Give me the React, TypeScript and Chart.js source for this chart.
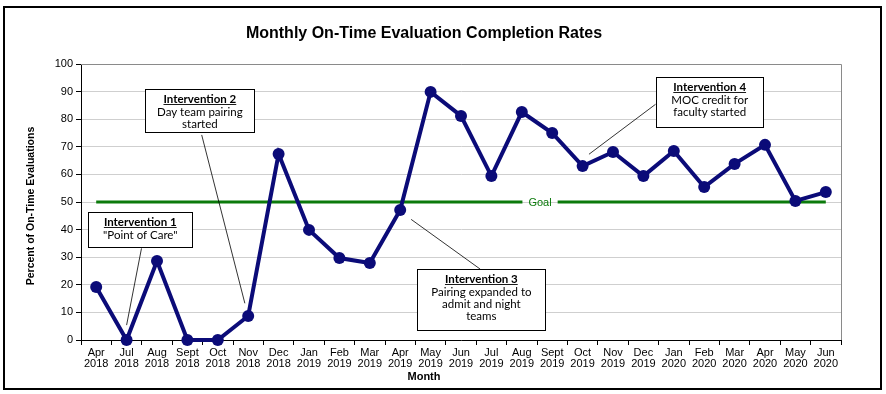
import React, { useEffect, useRef } from "react";
import { Chart, registerables } from "chart.js";

Chart.register(...registerables);

const months = ["Apr", "Jul", "Aug", "Sept", "Oct", "Nov", "Dec", "Jan", "Feb", "Mar", "Apr", "May", "Jun", "Jul", "Aug", "Sept", "Oct", "Nov", "Dec", "Jan", "Feb", "Mar", "Apr", "May", "Jun"];
const years = ["2018", "2018", "2018", "2018", "2018", "2018", "2018", "2019", "2019", "2019", "2019", "2019", "2019", "2019", "2019", "2019", "2019", "2019", "2019", "2020", "2020", "2020", "2020", "2020", "2020"];
const rates = [19.2, 0, 28.6, 0, 0, 8.7, 67.4, 39.9, 29.7, 27.9, 47.1, 89.9, 81.2, 59.4, 82.6, 75, 63, 68.1, 59.4, 68.5, 55.4, 63.8, 70.7, 50.4, 53.6];
const goalValue = 50;
const goalLabelIndex = 14.6;
const yTicks = { min: 0, max: 100, step: 10 };

type Note = {
  title: string;
  lines: string[];
  cx: number; // category index of box center
  top: number; // value at box top
  w: number;
  h: number;
  from: [number, number];
  to: [number, number];
};

const notes: Note[] = [
  { title: "Intervention 1", lines: ['"Point of Care"'], cx: 1.45, top: 46.4, w: 104, h: 35, from: [1.49, 33.2], to: [1.0, 5.4] },
  { title: "Intervention 2", lines: ["Day team pairing", "started"], cx: 3.41, top: 90.8, w: 109, h: 43, from: [3.47, 74.3], to: [4.89, 13.3] },
  { title: "Intervention 3", lines: ["Pairing expanded to", "admit and night", "teams"], cx: 12.67, top: 25.6, w: 128, h: 61, from: [10.36, 43.7], to: [12.63, 25.7] },
  { title: "Intervention 4", lines: ["MOC credit for", "faculty started"], cx: 20.18, top: 95.2, w: 107, h: 50, from: [18.4, 85.4], to: [16.21, 67.3] },
];

const NAVY = "#0b0b78";
const GREEN = "#0b7a0b";
const SANS = "'Liberation Sans', Arial, sans-serif";
const NOTE_FONT = "Lato, 'Open Sans', sans-serif";

const goalPlugin = {
  id: "goalLine",
  beforeDatasetsDraw(chart: any) {
    const { ctx } = chart;
    const x = chart.scales.x;
    const y = chart.scales.y;
    const py = y.getPixelForValue(goalValue);
    const x0 = x.getPixelForValue(0);
    const x1 = x.getPixelForValue(rates.length - 1);
    const lx = x.getPixelForValue(goalLabelIndex);
    ctx.save();
    ctx.font = `11px ${SANS}`;
    const tw = ctx.measureText("Goal").width;
    const gap = tw / 2 + 6;
    ctx.strokeStyle = GREEN;
    ctx.lineWidth = 3;
    ctx.beginPath();
    ctx.moveTo(x0, py);
    ctx.lineTo(lx - gap, py);
    ctx.moveTo(lx + gap, py);
    ctx.lineTo(x1, py);
    ctx.stroke();
    ctx.fillStyle = GREEN;
    ctx.textAlign = "center";
    ctx.textBaseline = "middle";
    ctx.fillText("Goal", lx, py + 1);
    ctx.restore();
  },
};

const decorPlugin = {
  id: "decor",
  beforeDraw(chart: any) {
    const { ctx, width, height } = chart;
    ctx.save();
    ctx.fillStyle = "#ffffff";
    ctx.fillRect(0, 0, width, height);
    ctx.restore();
  },
  afterDraw(chart: any) {
    const { ctx, chartArea } = chart;
    const x = chart.scales.x;
    const y = chart.scales.y;
    ctx.save();
    // plot border top/right
    ctx.strokeStyle = "#8a8a8a";
    ctx.lineWidth = 1;
    ctx.beginPath();
    ctx.moveTo(chartArea.left, chartArea.top + 0.5);
    ctx.lineTo(chartArea.right + 0.5, chartArea.top + 0.5);
    ctx.lineTo(chartArea.right + 0.5, chartArea.bottom);
    ctx.stroke();

    // outer border
    ctx.strokeStyle = "#000000";
    ctx.lineWidth = 2;
    ctx.strokeRect(4, 7, 877, 382);

    // title
    ctx.fillStyle = "#000";
    ctx.font = `bold 16px ${SANS}`;
    ctx.textAlign = "center";
    ctx.textBaseline = "middle";
    ctx.fillText("Monthly On-Time Evaluation Completion Rates", 424, 34);

    // axis titles
    ctx.font = `bold 11px ${SANS}`;
    ctx.fillText("Month", 424, 377);
    ctx.save();
    ctx.translate(31, 206);
    ctx.rotate(-Math.PI / 2);
    ctx.font = `bold 10.5px ${SANS}`;
    ctx.fillText("Percent of On-Time Evaluations", 0, 0);
    ctx.restore();

    // annotations
    for (const n of notes) {
      const cx = x.getPixelForValue(n.cx);
      const top = y.getPixelForValue(n.top);
      const fx = x.getPixelForValue(n.from[0]);
      const fy = y.getPixelForValue(n.from[1]);
      const tx = x.getPixelForValue(n.to[0]);
      const ty = y.getPixelForValue(n.to[1]);
      ctx.strokeStyle = "#000";
      ctx.lineWidth = 0.8;
      ctx.beginPath();
      ctx.moveTo(fx, fy);
      ctx.lineTo(tx, ty);
      ctx.stroke();
      const left = Math.round(cx - n.w / 2) + 0.5;
      const tp = Math.round(top) + 0.5;
      ctx.fillStyle = "#fff";
      ctx.fillRect(left, tp, n.w, n.h);
      ctx.lineWidth = 1;
      ctx.strokeRect(left, tp, n.w, n.h);
      ctx.fillStyle = "#000";
      ctx.textAlign = "center";
      ctx.textBaseline = "middle";
      ctx.font = `bold 11.5px ${NOTE_FONT}`;
      const ty0 = tp + 9.5;
      ctx.fillText(n.title, cx, ty0);
      const tw = ctx.measureText(n.title).width;
      ctx.beginPath();
      ctx.lineWidth = 0.9;
      ctx.moveTo(cx - tw / 2, Math.round(ty0 + 5) + 0.5);
      ctx.lineTo(cx + tw / 2, Math.round(ty0 + 5) + 0.5);
      ctx.stroke();
      ctx.font = `11.5px ${NOTE_FONT}`;
      n.lines.forEach((l, i) => ctx.fillText(l, cx, ty0 + 1.5 + 12 * (i + 1)));
    }
    ctx.restore();
  },
};

export default function App() {
  const ref = useRef<HTMLCanvasElement | null>(null);
  useEffect(() => {
    if (!ref.current) return;
    const labels = months.map((m, i) => [m, years[i]]);
    const chart = new Chart(ref.current, {
      type: "line",
      data: {
        labels,
        datasets: [
          {
            data: rates,
            borderColor: NAVY,
            backgroundColor: NAVY,
            borderWidth: 4,
            pointRadius: 6,
            pointBackgroundColor: NAVY,
            pointBorderColor: NAVY,
            pointBorderWidth: 0,
            tension: 0,
            clip: false as any,
          },
        ],
      },
      options: {
        animation: false,
        responsive: false,
        devicePixelRatio: 1,
        layout: { padding: { left: 0, right: 45, top: 64, bottom: 0 } },
        plugins: { legend: { display: false }, tooltip: { enabled: false }, title: { display: false } },
        scales: {
          x: {
            type: "category",
            offset: true,
            grid: { drawOnChartArea: false, drawTicks: true, tickLength: 5, offset: true, color: "#000" },
            border: { color: "#000", width: 1 },
            ticks: { color: "#000", font: { family: SANS, size: 11, lineHeight: 1.05 }, padding: 2, maxRotation: 0, autoSkip: false },
            afterFit: (s: any) => { s.height = 54; },
          },
          y: {
            min: yTicks.min,
            max: yTicks.max,
            grid: { color: "#cfcfcf", tickLength: 5, tickColor: "#000" } as any,
            border: { color: "#000", width: 1 },
            ticks: { stepSize: yTicks.step, color: "#000", font: { family: SANS, size: 11 }, padding: 3 },
            afterFit: (s: any) => { s.width = 81; },
          },
        },
      },
      plugins: [goalPlugin, decorPlugin],
    });
    return () => chart.destroy();
  }, []);
  return (
    <div style={{ position: "fixed", left: 0, top: 0, width: 886, height: 394 }}>
      <canvas ref={ref} width={886} height={394} style={{ width: 886, height: 394, display: "block" }} />
    </div>
  );
}
